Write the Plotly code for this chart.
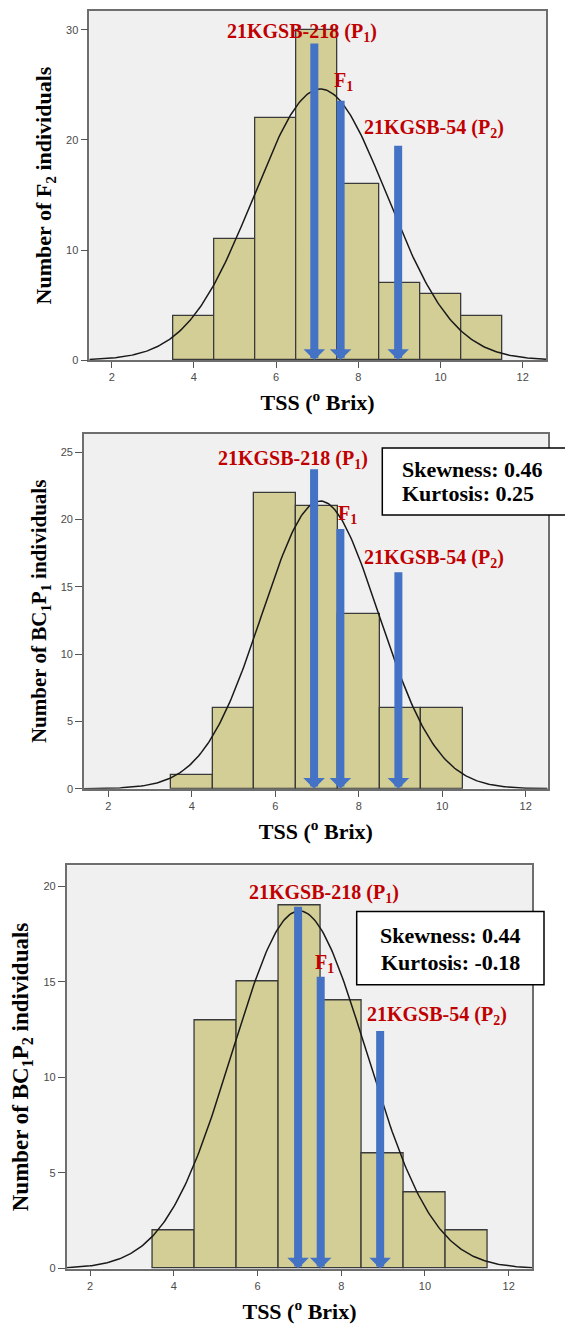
import numpy as np
import plotly.graph_objects as go

W, H = 565, 1332

# ---------------- data ----------------
bin_centers_f2 = [4, 5, 6, 7, 8, 9, 10, 11]
counts_f2 = [4, 11, 22, 30, 16, 7, 6, 4]

bin_centers_bc1p1 = [4, 5, 6, 7, 8, 9, 10]
counts_bc1p1 = [1, 6, 22, 21, 13, 6, 6]

bin_centers_bc1p2 = [4, 5, 6, 7, 8, 9, 10, 11]
counts_bc1p2 = [2, 13, 15, 19, 14, 6, 4, 2]

# fitted normal curves: mean, SD, N
fit_f2 = (7.08, 1.62, 100)
fit_bc1p1 = (7.08, 1.40, 75)
fit_bc1p2 = (7.00, 1.60, 75)

labels = ["21KGSB-218 (P<sub>1</sub>)", "F<sub>1</sub>", "21KGSB-54 (P<sub>2</sub>)"]

arrow_x_f2 = [6.93, 7.57, 8.97]
arrow_top_f2 = [28.9, 23.7, 19.6]
label_x_f2 = [6.63, 7.65, 9.84]
label_y_f2 = [29.77, 25.3, 21.04]

arrow_x_bc1p1 = [6.93, 7.56, 8.95]
arrow_top_bc1p1 = [23.84, 19.4, 16.2]
label_x_bc1p1 = [6.43, 7.74, 9.81]
label_y_bc1p1 = [24.45, 20.34, 17.13]

arrow_x_bc1p2 = [6.97, 7.51, 8.93]
arrow_top_bc1p2 = [19.0, 15.33, 12.5]
label_x_bc1p2 = [7.58, 7.61, 10.28]
label_y_bc1p2 = [19.63, 15.94, 13.24]

stats_bc1p1 = ["Skewness: 0.46", "Kurtosis: 0.25"]
stats_bc1p2 = ["Skewness: 0.44", "Kurtosis: -0.18"]

y_titles = ["Number of F<sub>2</sub> individuals",
            "Number of BC<sub>1</sub>P<sub>1</sub> individuals",
            "Number of BC<sub>1</sub>P<sub>2</sub> individuals"]
x_title = "TSS (<sup>o</sup> Brix)"

x_ticks = [2, 4, 6, 8, 10, 12]
y_ticks_f2 = [0, 10, 20, 30]
y_ticks_bc1p1 = [0, 5, 10, 15, 20, 25]
y_ticks_bc1p2 = [0, 5, 10, 15, 20]

# ---------------- layout geometry (pixels) ----------------
panels = [
    dict(px=(89.3, 546.0), py=(11.0, 361.7), xr=[1.455, 12.567], yr=[0, 31.72]),
    dict(px=(84.0, 547.7), py=(436.0, 792.3), xr=[1.418, 12.527], yr=[0, 26.35]),
    dict(px=(66.7, 532.3), py=(869.3, 1274.3), xr=[1.443, 12.564], yr=[0, 21.08]),
]
y_title_sizes = [22, 21, 23]

BAR_FILL = "#D3CE96"
BAR_LINE = "#3a3a3a"
ARROW = "#4472C4"
RED = "#C00000"
SERIF = "Liberation Serif, Times New Roman, serif"
SANS = "Liberation Sans, Arial, sans-serif"

fig = go.Figure()

datasets = [
    (bin_centers_f2, counts_f2, fit_f2, y_ticks_f2,
     arrow_x_f2, arrow_top_f2, label_x_f2, label_y_f2),
    (bin_centers_bc1p1, counts_bc1p1, fit_bc1p1, y_ticks_bc1p1,
     arrow_x_bc1p1, arrow_top_bc1p1, label_x_bc1p1, label_y_bc1p1),
    (bin_centers_bc1p2, counts_bc1p2, fit_bc1p2, y_ticks_bc1p2,
     arrow_x_bc1p2, arrow_top_bc1p2, label_x_bc1p2, label_y_bc1p2),
]

annotations = []
shapes = []

for i, (p, d) in enumerate(zip(panels, datasets)):
    centers, counts, fit, yticks, ax_x, ax_top, lx, ly = d
    sfx = "" if i == 0 else str(i + 1)
    xa, ya = "x" + sfx, "y" + sfx

    fig.add_trace(go.Bar(
        x=centers, y=counts, width=1.0, xaxis=xa, yaxis=ya,
        marker=dict(color=BAR_FILL, line=dict(color=BAR_LINE, width=1.3)),
        showlegend=False, hoverinfo="x+y"))

    mu, sd, n = fit
    xs = np.linspace(p["xr"][0], p["xr"][1], 300)
    ys = n * 1.0 / (sd * np.sqrt(2 * np.pi)) * np.exp(-0.5 * ((xs - mu) / sd) ** 2)
    fig.add_trace(go.Scatter(
        x=xs, y=ys, mode="lines", xaxis=xa, yaxis=ya,
        line=dict(color="#1a1a1a", width=1.5), showlegend=False, hoverinfo="skip"))

    dom_x = [p["px"][0] / W, p["px"][1] / W]
    dom_y = [1 - p["py"][1] / H, 1 - p["py"][0] / H]

    common = dict(showline=True, linecolor="#6e6e6e", linewidth=1.6, mirror=True,
                  ticks="outside", tickcolor="#555", tickwidth=1.4,
                  showgrid=False, zeroline=False,
                  tickfont=dict(family=SANS, size=11, color="#4a4a4a"))
    fig.update_layout(**{
        ("xaxis" + sfx): dict(domain=dom_x, range=p["xr"], anchor=ya,
                              tickvals=x_ticks, ticklen=6,
                              title=dict(text="<b>" + x_title + "</b>", standoff=13,
                                         font=dict(family=SERIF, size=22, color="black")),
                              **common),
        ("yaxis" + sfx): dict(domain=dom_y, range=p["yr"], anchor=xa,
                              tickvals=yticks, ticklen=7,
                              title=dict(text="<b>" + y_titles[i] + "</b>", standoff=8,
                                         font=dict(family=SERIF, size=y_title_sizes[i],
                                                   color="black")),
                              **common),
    })

    for x0, top in zip(ax_x, ax_top):
        annotations.append(dict(
            x=x0, y=0, ax=x0, ay=top, xref=xa, yref=ya, axref=xa, ayref=ya,
            text="", showarrow=True, arrowhead=1, arrowsize=0.45, arrowwidth=8,
            arrowcolor=ARROW))
    for t, x0, y0 in zip(labels, lx, ly):
        annotations.append(dict(
            x=x0, y=y0, xref=xa, yref=ya, text="<b>" + t + "</b>", showarrow=False,
            xanchor="center", yanchor="middle",
            font=dict(family=SERIF, size=20, color=RED)))

# statistics boxes
shapes.append(dict(type="rect", xref="paper", yref="paper", layer="above",
                   x0=382.3 / W, x1=1.02, y0=1 - 517.3 / H, y1=1 - 450 / H,
                   fillcolor="white", line=dict(color="black", width=1.5)))
for t, cy in zip(stats_bc1p1, [471.6, 495.6]):
    annotations.append(dict(x=400 / W, y=1 - cy / H, xref="paper", yref="paper",
                            text="<b>" + t + "</b>", showarrow=False,
                            xanchor="left", yanchor="middle",
                            font=dict(family=SERIF, size=22, color="black")))

shapes.append(dict(type="rect", xref="paper", yref="paper", layer="above",
                   x0=356.7 / W, x1=544 / W, y0=1 - 989.3 / H, y1=1 - 915.7 / H,
                   fillcolor="white", line=dict(color="black", width=1.5)))
for t, cy in zip(stats_bc1p2, [939.3, 966.9]):
    annotations.append(dict(x=450.3 / W, y=1 - cy / H, xref="paper", yref="paper",
                            text="<b>" + t + "</b>", showarrow=False,
                            xanchor="center", yanchor="middle",
                            font=dict(family=SERIF, size=22, color="black")))

fig.update_layout(
    width=W, height=H, margin=dict(l=0, r=0, t=0, b=0),
    paper_bgcolor="white", plot_bgcolor="#F0F0F0",
    bargap=0, showlegend=False,
    font=dict(family=SERIF, color="black"),
    annotations=annotations, shapes=shapes,
)

fig.write_html("out.html")
